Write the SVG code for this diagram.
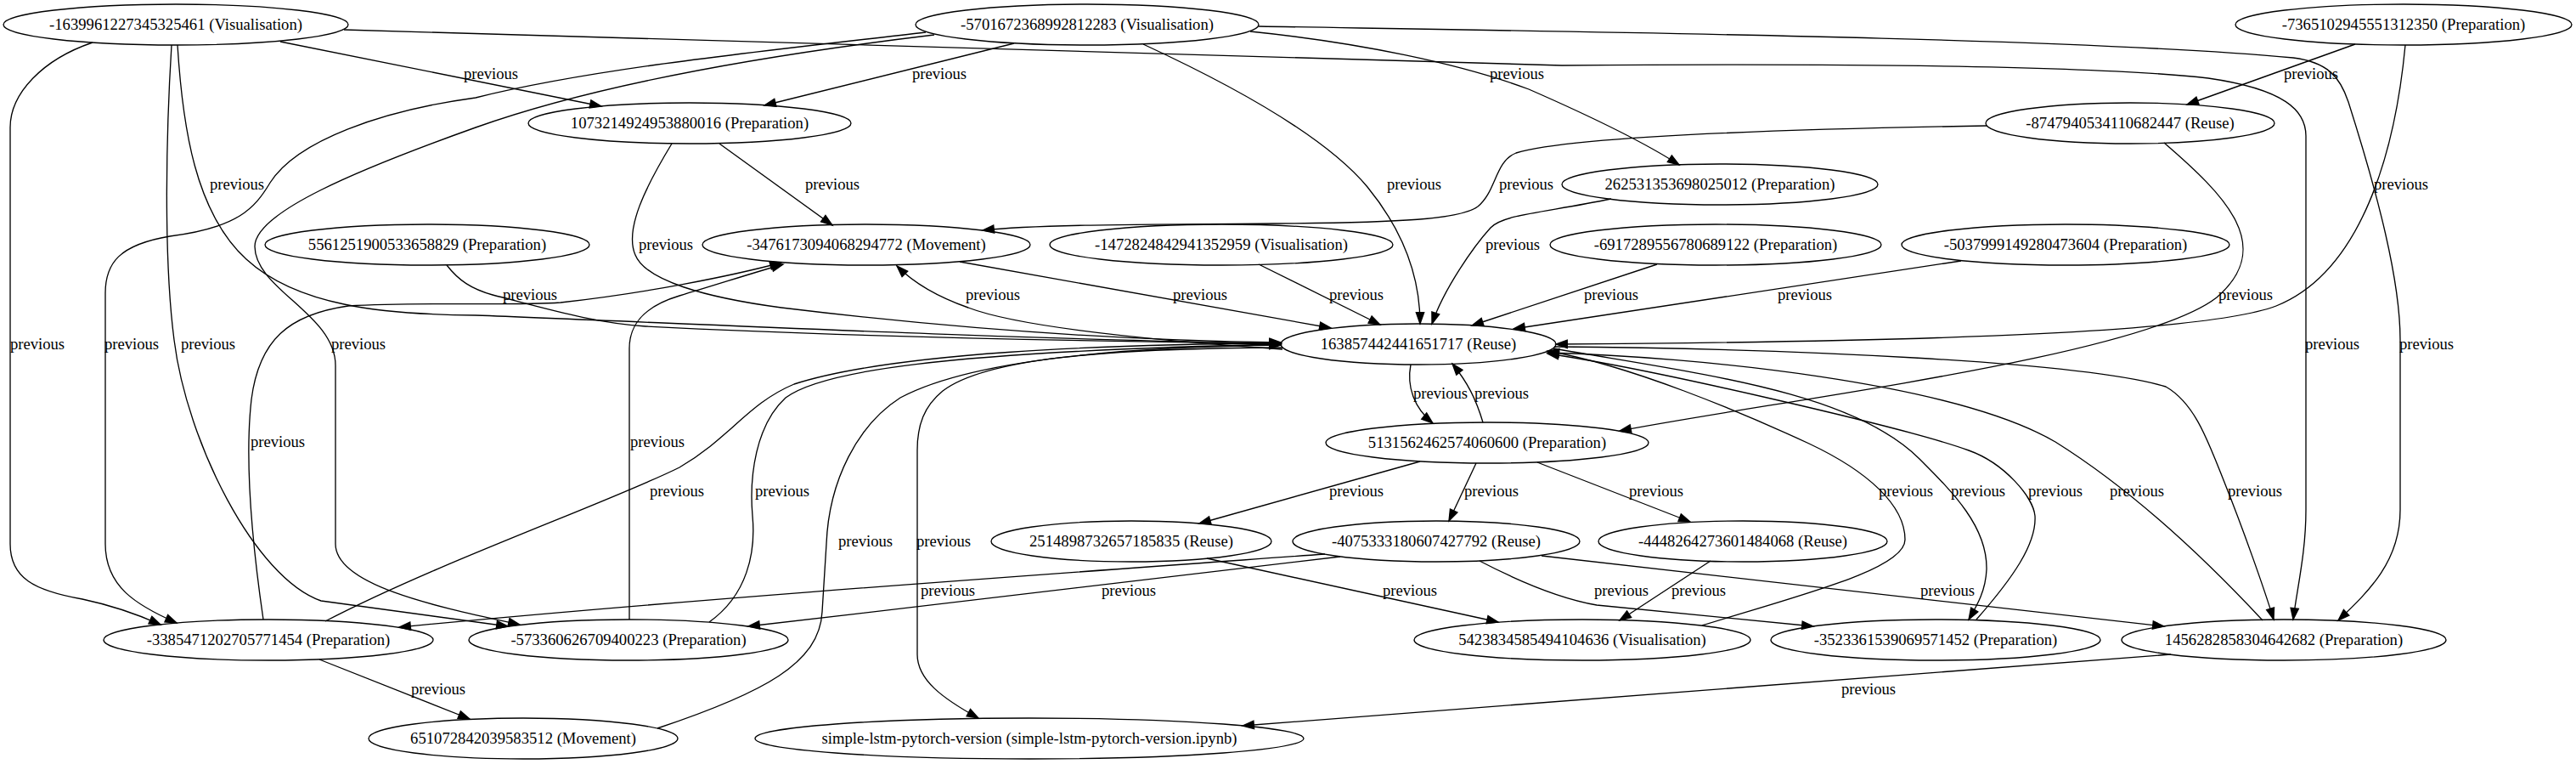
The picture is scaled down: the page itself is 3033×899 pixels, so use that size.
<svg xmlns="http://www.w3.org/2000/svg" width="3033" height="899" viewBox="0 0 3033 899">
<style>
.node ellipse{fill:none;stroke:#000;stroke-width:1.33}
.node text{font-family:"Liberation Serif","Times New Roman",serif;font-size:18.67px;text-anchor:middle;fill:#000}
.edge path{fill:none;stroke:#000;stroke-width:1.33;marker-end:url(#arr)}
.edge text{font-family:"Liberation Serif","Times New Roman",serif;font-size:18.67px;text-anchor:middle;fill:#000}
</style>
<defs>
<marker id="arr" markerUnits="userSpaceOnUse" markerWidth="16" markerHeight="12" refX="13.3" refY="4.67" orient="auto" overflow="visible">
<path d="M0,0 L13.3,4.67 L0,9.33 z" fill="#000" stroke="#000" stroke-width="1.33"/>
</marker>
</defs>
<rect width="3033" height="899" fill="#fff"/>
<g id="edges" class="edge">
<path d="M330,49 L708,125"/>
<path d="M1194,51 L900,124"/>
<path d="M1472,37 C1600,50 1720,75 1800,105 C1880,140 1940,170 1977,194"/>
<path d="M1346,52 C1450,100 1560,160 1610,220 C1655,275 1672,330 1672,381"/>
<path d="M2773,52 L2575,123"/>
<path d="M2832,53 C2820,180 2780,320 2680,360 C2600,390 2300,402 1832,405"/>
<path d="M109,50 C50,70 12,110 12,150 L12,640 C12,680 40,695 97,705 C130,712 160,722 189,735"/>
<path d="M1090,38 C900,60 700,80 560,115 C450,130 350,165 318,215 C300,245 280,268 200,278 C140,288 124,310 124,345 L124,640 C124,690 160,712 208,733"/>
<path d="M202,53 C196,150 192,300 205,400 C220,520 300,680 378,707 L598,737"/>
<path d="M1100,41 C900,65 700,100 560,150 C420,200 300,250 300,290 C300,340 395,370 395,430 L395,640 C395,690 520,715 612,735"/>
<path d="M209,53 C215,150 230,250 290,305 C350,360 450,370 560,371 C800,380 1200,400 1508,404"/>
<path d="M526,312 C540,330 555,340 580,347 C650,365 700,380 760,384 C1000,396 1300,402 1508,404"/>
<path d="M791,169 C760,220 735,270 748,300 C760,330 830,350 920,362 C1150,390 1350,401 1508,403"/>
<path d="M383,731 C520,660 720,590 800,550 C860,515 880,475 935,452 C1050,415 1300,405 1508,404"/>
<path d="M835,732 C880,700 890,650 886,607 C882,560 890,500 925,468 C965,438 1100,414 1508,405"/>
<path d="M774,857 C900,815 965,780 968,720 L973,640 C976,565 1010,500 1060,468 C1150,420 1350,408 1508,406"/>
<path d="M1510,409 C1300,410 1160,422 1110,460 C1088,478 1080,500 1080,530 L1080,770 C1080,800 1110,822 1152,845"/>
<path d="M1510,411 C1350,400 1200,385 1140,362 C1100,348 1075,332 1056,313"/>
<path d="M1130,308 L1567,386"/>
<path d="M1482,311 L1625,382"/>
<path d="M1897,234 C1820,250 1770,252 1755,268 C1735,290 1700,340 1686,381"/>
<path d="M1951,311 L1733,383"/>
<path d="M2309,307 L1782,387"/>
<path d="M2339,148 C2100,152 1850,160 1785,180 C1760,190 1762,225 1740,243 C1720,258 1650,262 1500,263 C1350,264 1220,264 1157,271"/>
<path d="M847,169 L980,265"/>
<path d="M2548,168 C2620,230 2680,290 2610,350 C2520,420 2100,470 1907,507"/>
<path d="M1661,429 C1656,455 1665,480 1687,498"/>
<path d="M1746,497 C1738,470 1728,450 1710,428"/>
<path d="M1672,543 L1412,616"/>
<path d="M1738,545 L1706,613"/>
<path d="M1810,544 L1990,614"/>
<path d="M1421,657 L1764,732"/>
<path d="M2014,660 L1907,730"/>
<path d="M1742,660 C1790,685 1840,705 1880,712 L2135,737"/>
<path d="M1815,654 L2548,737"/>
<path d="M1560,652 C1200,678 800,706 470,738"/>
<path d="M1578,655 C1300,688 1100,712 881,737"/>
<path d="M2004,736 C2120,700 2243,670 2243,635 C2243,595 2200,555 2130,522 C2050,485 1920,430 1822,413"/>
<path d="M1829,410 C2000,440 2180,460 2260,540 C2300,580 2340,620 2339,670 C2338,695 2328,712 2318,729"/>
<path d="M2327,729 C2370,680 2398,640 2396,607 C2394,585 2360,545 2318,530 C2250,505 1950,435 1822,416"/>
<path d="M2664,730 C2580,640 2500,570 2420,520 C2300,450 2000,420 1822,415"/>
<path d="M1830,408 C2100,410 2450,425 2550,455 C2585,475 2600,520 2620,570 C2640,620 2665,690 2677,729"/>
<path d="M405,35 C800,45 1300,62 1839,77 C2100,75 2450,75 2600,92 C2690,105 2715,130 2715,160 L2715,600 C2715,650 2705,690 2700,729"/>
<path d="M1482,31 C1900,38 2450,45 2700,68 C2740,73 2755,90 2765,120 C2800,230 2826,330 2826,400 L2826,600 C2826,660 2790,695 2753,730"/>
<path d="M2556,770 L1463,854"/>
<path d="M376,776 L553,846"/>
<path d="M310,729 C297,640 288,540 296,470 C305,400 340,370 410,360 C500,355 600,360 660,356 C760,345 860,325 920,309"/>
<path d="M741,729 L741,410 C741,380 760,360 800,348 C850,333 890,320 922,311"/>
<text x="578" y="93">previous</text>
<text x="1106" y="93">previous</text>
<text x="1786" y="93">previous</text>
<text x="2721" y="93">previous</text>
<text x="279" y="223">previous</text>
<text x="980" y="223">previous</text>
<text x="1665" y="223">previous</text>
<text x="1797" y="223">previous</text>
<text x="2827" y="223">previous</text>
<text x="784" y="294">previous</text>
<text x="1781" y="294">previous</text>
<text x="624" y="353">previous</text>
<text x="1169" y="353">previous</text>
<text x="1413" y="353">previous</text>
<text x="1597" y="353">previous</text>
<text x="1897" y="353">previous</text>
<text x="2125" y="353">previous</text>
<text x="2644" y="353">previous</text>
<text x="44" y="411">previous</text>
<text x="155" y="411">previous</text>
<text x="245" y="411">previous</text>
<text x="422" y="411">previous</text>
<text x="2746" y="411">previous</text>
<text x="2857" y="411">previous</text>
<text x="1696" y="469">previous</text>
<text x="1768" y="469">previous</text>
<text x="327" y="526">previous</text>
<text x="774" y="526">previous</text>
<text x="797" y="584">previous</text>
<text x="921" y="584">previous</text>
<text x="1597" y="584">previous</text>
<text x="1756" y="584">previous</text>
<text x="1950" y="584">previous</text>
<text x="2244" y="584">previous</text>
<text x="2329" y="584">previous</text>
<text x="2420" y="584">previous</text>
<text x="2516" y="584">previous</text>
<text x="2655" y="584">previous</text>
<text x="1019" y="643">previous</text>
<text x="1111" y="643">previous</text>
<text x="1116" y="701">previous</text>
<text x="1329" y="701">previous</text>
<text x="1660" y="701">previous</text>
<text x="1909" y="701">previous</text>
<text x="2000" y="701">previous</text>
<text x="2293" y="701">previous</text>
<text x="516" y="817">previous</text>
<text x="2200" y="817">previous</text>
</g>
<g id="node-A" class="node"><ellipse cx="207" cy="29" rx="203" ry="24"/><text x="207" y="35">-1639961227345325461 (Visualisation)</text></g>
<g id="node-B" class="node"><ellipse cx="1280" cy="29" rx="202" ry="24"/><text x="1280" y="35">-5701672368992812283 (Visualisation)</text></g>
<g id="node-C" class="node"><ellipse cx="2830" cy="29" rx="198" ry="24"/><text x="2830" y="35">-7365102945551312350 (Preparation)</text></g>
<g id="node-D" class="node"><ellipse cx="812" cy="145" rx="190" ry="24"/><text x="812" y="151">1073214924953880016 (Preparation)</text></g>
<g id="node-E" class="node"><ellipse cx="2508" cy="145" rx="170" ry="24"/><text x="2508" y="151">-8747940534110682447 (Reuse)</text></g>
<g id="node-F" class="node"><ellipse cx="2025" cy="217" rx="186" ry="24"/><text x="2025" y="223">262531353698025012 (Preparation)</text></g>
<g id="node-G" class="node"><ellipse cx="503" cy="288" rx="191" ry="24"/><text x="503" y="294">5561251900533658829 (Preparation)</text></g>
<g id="node-H" class="node"><ellipse cx="1020" cy="288" rx="193" ry="24"/><text x="1020" y="294">-3476173094068294772 (Movement)</text></g>
<g id="node-I" class="node"><ellipse cx="1438" cy="288" rx="202" ry="24"/><text x="1438" y="294">-1472824842941352959 (Visualisation)</text></g>
<g id="node-J" class="node"><ellipse cx="2020" cy="288" rx="195" ry="24"/><text x="2020" y="294">-6917289556780689122 (Preparation)</text></g>
<g id="node-K" class="node"><ellipse cx="2432" cy="288" rx="193" ry="24"/><text x="2432" y="294">-5037999149280473604 (Preparation)</text></g>
<g id="node-R" class="node"><ellipse cx="1670" cy="405" rx="162" ry="24"/><text x="1670" y="411">163857442441651717 (Reuse)</text></g>
<g id="node-S" class="node"><ellipse cx="1751" cy="521" rx="190" ry="24"/><text x="1751" y="527">5131562462574060600 (Preparation)</text></g>
<g id="node-T" class="node"><ellipse cx="1332" cy="637" rx="165" ry="24"/><text x="1332" y="643">2514898732657185835 (Reuse)</text></g>
<g id="node-U" class="node"><ellipse cx="1691" cy="637" rx="169" ry="24"/><text x="1691" y="643">-4075333180607427792 (Reuse)</text></g>
<g id="node-V" class="node"><ellipse cx="2052" cy="637" rx="170" ry="24"/><text x="2052" y="643">-4448264273601484068 (Reuse)</text></g>
<g id="node-W" class="node"><ellipse cx="316" cy="753" rx="194" ry="24"/><text x="316" y="759">-3385471202705771454 (Preparation)</text></g>
<g id="node-X" class="node"><ellipse cx="740" cy="753" rx="188" ry="24"/><text x="740" y="759">-573360626709400223 (Preparation)</text></g>
<g id="node-Y" class="node"><ellipse cx="1863" cy="753" rx="198" ry="24"/><text x="1863" y="759">5423834585494104636 (Visualisation)</text></g>
<g id="node-Z" class="node"><ellipse cx="2279" cy="753" rx="194" ry="24"/><text x="2279" y="759">-3523361539069571452 (Preparation)</text></g>
<g id="node-P" class="node"><ellipse cx="2689" cy="753" rx="191" ry="24"/><text x="2689" y="759">1456282858304642682 (Preparation)</text></g>
<g id="node-M" class="node"><ellipse cx="616" cy="869" rx="182" ry="24"/><text x="616" y="875">651072842039583512 (Movement)</text></g>
<g id="node-Q" class="node"><ellipse cx="1212" cy="869" rx="323" ry="24"/><text x="1212" y="875">simple-lstm-pytorch-version (simple-lstm-pytorch-version.ipynb)</text></g>
</svg>
